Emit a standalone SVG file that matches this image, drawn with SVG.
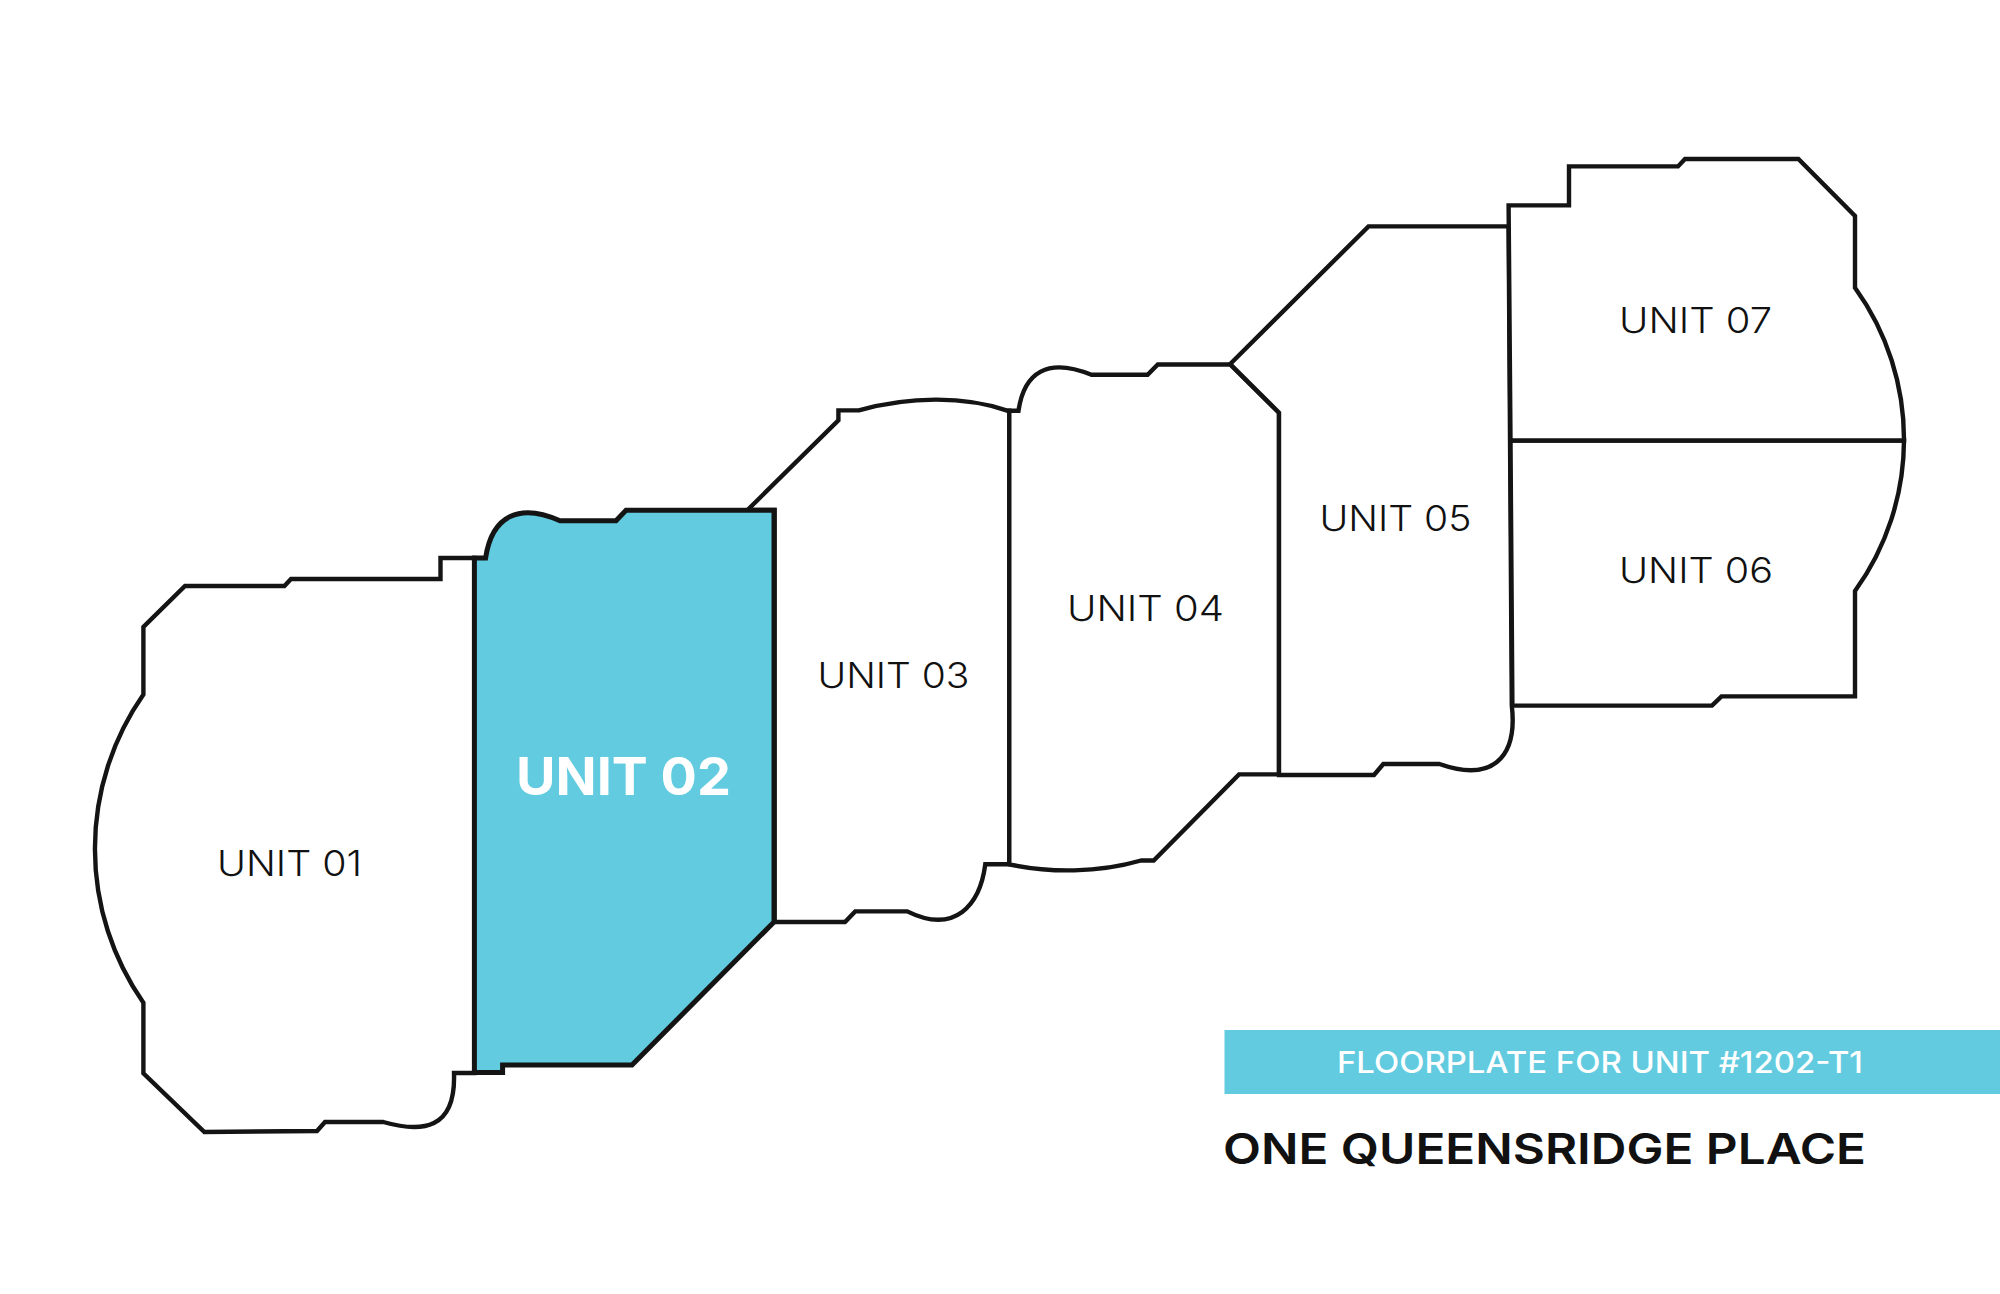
<svg xmlns="http://www.w3.org/2000/svg" width="2000" height="1294" viewBox="0 0 2000 1294">
<style>
.u{fill:#fff;stroke:#141414;stroke-width:4.4;stroke-linejoin:miter}
.hl{fill:#62cbe0;stroke-width:5}
text{font-family:"Inter","Noto Sans","Liberation Sans",sans-serif}
.l{font-size:36px;fill:#111;font-weight:300}
</style>
<rect width="2000" height="1294" fill="#fff"/>
<g id="unit-01">
<path class="u" d="M474.4 558H440.5V579H291L284.4 586H185L143.4 627V694.6A269 269 0 0 0 143.4 1002.7V1073.4L204.4 1132L317 1131L325 1122H383.3C422 1133 456 1130 454 1073H474.4Z"/>
<text class="l" x="217" y="875.5" textLength="145" lengthAdjust="spacingAndGlyphs">UNIT 01</text>
</g>
<g id="unit-03">
<path class="u" d="M747.5 510L838.4 420.4V410.4H858.8C910 396 965 396 1008 410.8H1009.3V864.3H985.3C980 905 955 935 907.2 911.4H855.2L845 922H774.6V510Z"/>
<text class="l" x="817.5" y="688" textLength="152" lengthAdjust="spacingAndGlyphs">UNIT 03</text>
</g>
<g id="unit-04">
<path class="u" d="M1009.3 410.8H1018.5C1024 372 1048 357 1091.4 374.8H1147.6L1157.8 364.5H1230.2L1279 412.7V774.4H1239L1153.7 860.5H1141C1098 873 1050 873 1009.3 864.3Z"/>
<text class="l" x="1067" y="621" textLength="157" lengthAdjust="spacingAndGlyphs">UNIT 04</text>
</g>
<g id="unit-05">
<path class="u" d="M1230.2 364L1368.5 226.4H1508.6L1511.8 705.5C1518 760 1490 782 1439.4 764H1383.3L1374 775H1279V412.7Z"/>
<text class="l" x="1319.5" y="531" textLength="152" lengthAdjust="spacingAndGlyphs">UNIT 05</text>
</g>
<g id="unit-06">
<path class="u" d="M1510.5 440.5H1904A259 259 0 0 1 1855 591V696.4H1721.5L1712 705.6H1512.4Z"/>
<text class="l" x="1619" y="582.5" textLength="154" lengthAdjust="spacingAndGlyphs">UNIT 06</text>
</g>
<g id="unit-07">
<path class="u" d="M1508.6 205.4H1569V166.4H1678L1685 159H1798.4L1855 216V287.7A259 259 0 0 1 1904 440.5H1510.5Z"/>
<text class="l" x="1619" y="332.5" textLength="153" lengthAdjust="spacingAndGlyphs">UNIT 07</text>
</g>
<g id="unit-02">
<path class="u hl" d="M474.4 558H485.6C492 515 520 503 560 520.8H616L626 510.3H774V922L632 1065H502.6V1072.6H474.4Z"/>
<text x="516" y="795" font-size="52" font-weight="700" fill="#fff" textLength="215" lengthAdjust="spacingAndGlyphs">UNIT 02</text>
</g>
<g id="legend">
<rect x="1224.5" y="1030" width="775.5" height="64" fill="#62cbe0"/>
<text x="1337" y="1072.5" font-size="30" font-weight="500" fill="#fff" textLength="526" lengthAdjust="spacingAndGlyphs">FLOORPLATE FOR UNIT #1202-T1</text>
<text x="1223" y="1164" font-size="43" font-weight="600" fill="#111" textLength="643" lengthAdjust="spacingAndGlyphs">ONE QUEENSRIDGE PLACE</text>
</g>
</svg>
